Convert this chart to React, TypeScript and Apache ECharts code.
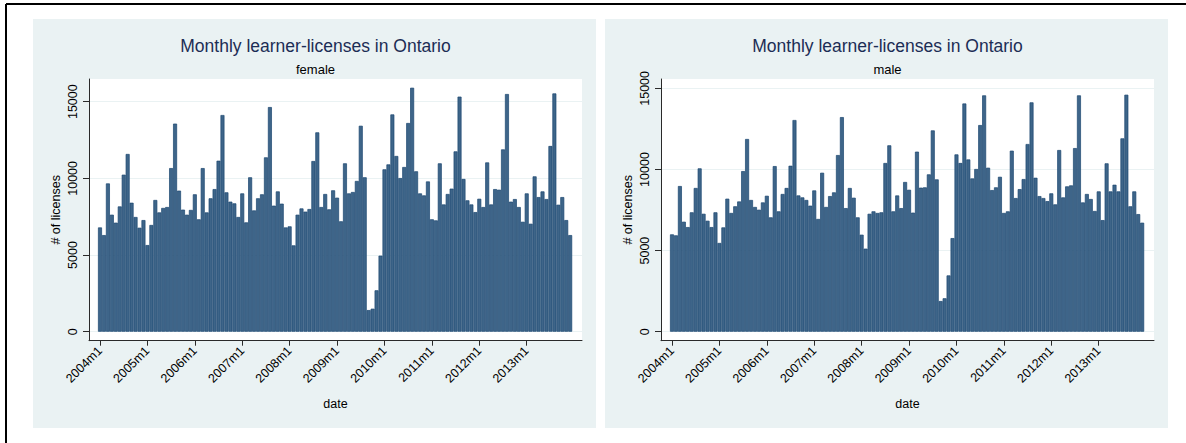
import React, { useEffect, useRef } from 'react';
import * as echarts from 'echarts';

const W = 1186;
const H = 443;

const chartTitle = 'Monthly learner-licenses in Ontario';
const panelNames = ['female', 'male'];
const yTickValues = [0, 5000, 10000, 15000];
const yTickLabels = ['0', '5000', '10000', '15000'];
const xTickLabels = ['2004m1', '2005m1', '2006m1', '2007m1', '2008m1', '2009m1', '2010m1', '2011m1', '2012m1', '2013m1'];
const firstYear = 2004;
const nMonths = 120;

const femaleValues = [
  6800, 6300, 9670, 7630, 7110, 8170, 10240, 11590, 8410, 7480, 6780, 7280,
  5650, 6960, 8590, 7780, 8070, 8130, 10670, 13570, 9200, 7960, 7630, 7940,
  8960, 7330, 10670, 7780, 8700, 9300, 11150, 14130, 9090, 8480, 8370, 7480,
  9020, 7130, 10070, 7910, 8700, 8960, 11370, 14650, 8220, 9150, 8350, 6800,
  6870, 5630, 7630, 8040, 7830, 8000, 11130, 13000, 8130, 8980, 7980, 9220,
  8740, 7200, 10980, 9020, 9110, 9830, 13430, 10070, 1410, 1500, 2700, 4960,
  10590, 10910, 14170, 11460, 10020, 10740, 13610, 15910, 10460, 9020, 8890, 9800,
  7330, 7260, 10980, 8300, 8980, 9330, 11760, 15330, 9960, 8570, 8300, 7800,
  8670, 8130, 11040, 8300, 9300, 9260, 11890, 15500, 8480, 8650, 8130, 7170,
  9020, 7040, 10130, 8780, 9150, 8650, 12110, 15540, 8280, 8780, 7280, 6300,
];

const maleValues = [
  6000, 5940, 8980, 6780, 6450, 7360, 8860, 10070, 7270, 6840, 6450, 7360,
  5470, 6430, 8200, 7320, 7730, 8030, 9900, 11880, 8120, 7690, 7520, 7970,
  8380, 7050, 10210, 7420, 8490, 8860, 10230, 13050, 8400, 8280, 8120, 7770,
  8710, 6950, 9800, 7690, 8360, 8590, 10890, 13230, 7620, 8860, 8260, 7050,
  5980, 5120, 7270, 7420, 7320, 7360, 10400, 11490, 7420, 8400, 7620, 9230,
  8750, 7340, 11100, 8880, 8900, 9700, 12410, 9390, 1890, 2060, 3470, 5770,
  10930, 10400, 14070, 10620, 9450, 10030, 12740, 14570, 10110, 8730, 8900, 9550,
  7320, 7420, 11160, 8240, 8790, 9410, 11570, 14140, 9490, 8360, 8240, 8050,
  8530, 7850, 11200, 8280, 8960, 9020, 11320, 14570, 7970, 8490, 8180, 7440,
  8650, 6880, 10380, 8650, 9060, 8650, 11920, 14610, 7730, 8650, 7250, 6720,
];

const monthLabels: string[] = [];
for (let i = 0; i < nMonths; i++) {
  monthLabels.push(`${firstYear + Math.floor(i / 12)}m${(i % 12) + 1}`);
}
const xTickValues = xTickLabels.map((l) => monthLabels.indexOf(l));

const FONT = '"Liberation Sans", Arial, Helvetica, sans-serif';
const BG = '#eaf2f3';
const AXIS = '#2a2a2a';

export default function App() {
  const ref = useRef<HTMLDivElement>(null);
  useEffect(() => {
    if (!ref.current) return;
    const chart = echarts.init(ref.current, undefined, { renderer: 'svg' });

    const panelOffset = 572;
    const plotLeft = 89;
    const plotTop = 79;
    const plotW = 493;
    const plotH = 261.7;
    const pxPerMonth = 3.951;
    const firstTickPx = 11;
    const xMin = -firstTickPx / pxPerMonth;
    const xMax = xMin + plotW / pxPerMonth;
    const yScales = [230 / 15000, 81.1 / 5000];
    const zeroGap = 9;

    const datasets = [femaleValues, maleValues];

    const grids: any[] = [];
    const xAxes: any[] = [];
    const yAxes: any[] = [];
    const series: any[] = [];
    const graphics: any[] = [];

    for (let p = 0; p < 2; p++) {
      const off = p * panelOffset;
      graphics.push({
        type: 'rect', z: -10,
        shape: { x: 33 + off, y: 19, width: 563, height: 409 },
        style: { fill: BG },
      });
      const titleX = plotLeft + off + plotW / 2 - 20;
      graphics.push({
        type: 'text', z: 10,
        x: titleX, y: 46,
        style: { text: chartTitle, fill: '#1c2d55', font: `17.5px ${FONT}`, textAlign: 'center', textVerticalAlign: 'middle' },
      });
      graphics.push({
        type: 'text', z: 10,
        x: titleX, y: 69,
        style: { text: panelNames[p], fill: '#000', font: `13px ${FONT}`, textAlign: 'center', textVerticalAlign: 'middle' },
      });

      const ys = yScales[p];
      const yMin = -zeroGap / ys;
      const yMax = yMin + plotH / ys;

      grids.push({
        left: plotLeft + off, top: plotTop, width: plotW, height: plotH,
        show: true, backgroundColor: '#ffffff', borderWidth: 0, containLabel: false,
      });
      xAxes.push({
        type: 'value', gridIndex: p, min: xMin, max: xMax,
        name: 'date', nameLocation: 'middle', nameGap: 57,
        nameTextStyle: { fontFamily: FONT, fontSize: 12.5, color: '#000' },
        axisLine: { show: true, onZero: false, lineStyle: { color: AXIS, width: 1 } },
        axisTick: { show: true, length: 5, customValues: xTickValues, lineStyle: { color: AXIS } },
        axisLabel: {
          show: true, customValues: xTickValues, rotate: 45, margin: 8,
          fontFamily: FONT, fontSize: 12.5, color: '#000',
          formatter: (v: number) => monthLabels[Math.round(v)] ?? '',
        },
        splitLine: { show: false },
      });
      yAxes.push({
        type: 'value', gridIndex: p, min: yMin, max: yMax,
        name: '# of licenses', nameLocation: 'middle', nameGap: 27,
        nameTextStyle: { fontFamily: FONT, fontSize: 12.5, color: '#000' },
        axisLine: { show: true, onZero: false, lineStyle: { color: AXIS, width: 1 } },
        axisTick: { show: true, length: 6, customValues: yTickValues, lineStyle: { color: AXIS } },
        axisLabel: {
          show: true, customValues: yTickValues, rotate: 90, margin: 10,
          fontFamily: FONT, fontSize: 12.5, color: '#000',
          formatter: (v: number) => yTickLabels[yTickValues.indexOf(Math.round(v))] ?? '',
        },
        splitLine: { show: true, lineStyle: { color: BG, width: 1 } },
      });
      series.push({
        type: 'bar', xAxisIndex: p, yAxisIndex: p,
        barWidth: pxPerMonth,
        data: datasets[p].map((v, i) => [i, v]),
        itemStyle: { color: '#3e6589', borderColor: '#1b4670', borderWidth: 0.7 },
        silent: true,
      });
    }

    graphics.push({ type: 'line', z: 20, shape: { x1: 6, y1: 4, x2: W, y2: 4 }, style: { stroke: '#000', lineWidth: 2 } });
    graphics.push({ type: 'line', z: 20, shape: { x1: 6, y1: 4, x2: 6, y2: H }, style: { stroke: '#000', lineWidth: 2 } });

    chart.setOption({
      animation: false,
      backgroundColor: '#ffffff',
      grid: grids,
      xAxis: xAxes,
      yAxis: yAxes,
      series,
      graphic: { elements: graphics },
    });
    return () => chart.dispose();
  }, []);

  return (
    <div style={{ position: 'absolute', left: 0, top: 0, width: W, height: H, background: '#fff' }}>
      <div ref={ref} style={{ width: W, height: H }} />
    </div>
  );
}
